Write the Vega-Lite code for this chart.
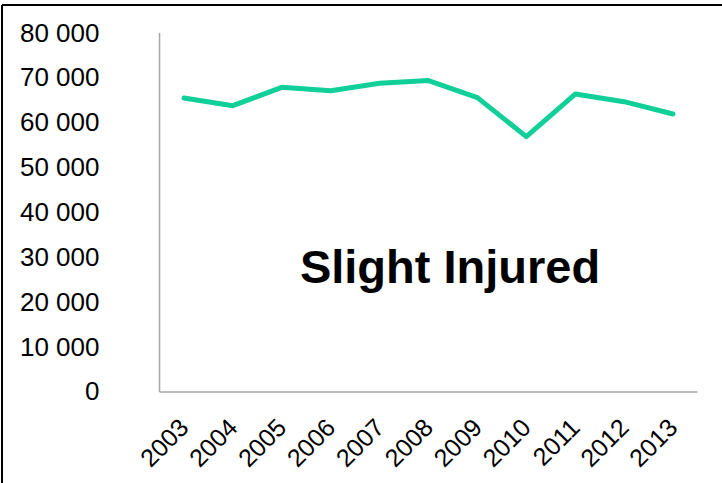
{
  "$schema": "https://vega.github.io/schema/vega-lite/v6.json",
  "width": 720,
  "height": 478,
  "autosize": {"type": "none"},
  "padding": {"left": 2, "top": 5, "right": 0, "bottom": 0},
  "background": "white",
  "config": {
    "view": {"stroke": null},
    "locale": {"number": {"decimal": ".", "thousands": " ", "grouping": [3], "currency": ["", ""]}},
    "axis": {"domain": false, "ticks": false, "grid": false, "tickSize": 0, "title": null, "labelFont": "Liberation Sans", "labelColor": "#000000"}
  },
  "layer": [
    {
      "data": {"values": [{}]},
      "mark": {"type": "rule", "color": "#000000", "strokeWidth": 2},
      "encoding": {
        "x": {"datum": 1999.2781, "type": "quantitative", "scale": {"domain": [1999.2781, 2014.002], "nice": false, "zero": false}},
        "y": {"datum": -20279, "type": "quantitative", "scale": {"domain": [-20279, 86240], "nice": false, "zero": false}},
        "y2": {"datum": 86240}
      }
    },
    {
      "data": {"values": [{}]},
      "mark": {"type": "rule", "color": "#000000", "strokeWidth": 2},
      "encoding": {
        "x": {"datum": 1999.2781, "type": "quantitative"},
        "x2": {"datum": 2014.002},
        "y": {"datum": 86240, "type": "quantitative"}
      }
    },
    {
      "data": {"values": [{}]},
      "mark": {"type": "rule", "color": "#a6a6a6", "strokeWidth": 1.5},
      "encoding": {
        "x": {"datum": 2002.5, "type": "quantitative"},
        "y": {"datum": 0, "type": "quantitative"},
        "y2": {"datum": 80000}
      }
    },
    {
      "data": {"values": [{}]},
      "mark": {"type": "rule", "color": "#a6a6a6", "strokeWidth": 1.5},
      "encoding": {
        "x": {"datum": 2002.5, "type": "quantitative"},
        "x2": {"datum": 2013.5},
        "y": {"datum": 0, "type": "quantitative"}
      }
    },
    {
      "data": {"values": [
        {"year": 2003, "injured": 65500},
        {"year": 2004, "injured": 63800},
        {"year": 2005, "injured": 67900},
        {"year": 2006, "injured": 67150},
        {"year": 2007, "injured": 68800},
        {"year": 2008, "injured": 69400},
        {"year": 2009, "injured": 65600},
        {"year": 2010, "injured": 56900},
        {"year": 2011, "injured": 66400},
        {"year": 2012, "injured": 64700},
        {"year": 2013, "injured": 61950}
      ]},
      "mark": {"type": "line", "color": "#10cf98", "strokeWidth": 5, "strokeCap": "round", "strokeJoin": "round"},
      "encoding": {
        "x": {"field": "year", "type": "quantitative", "axis": {"orient": "bottom", "values": [2003, 2004, 2005, 2006, 2007, 2008, 2009, 2010, 2011, 2012, 2013], "format": "d", "labelAngle": -45, "labelAlign": "right", "labelBaseline": "middle", "labelPadding": 31, "offset": -91, "labelFontSize": 25, "labelOverlap": false, "labelFlush": false}},
        "y": {"field": "injured", "type": "quantitative", "axis": {"orient": "left", "values": [0, 10000, 20000, 30000, 40000, 50000, 60000, 70000, 80000], "format": ",d", "labelPadding": 0, "offset": -97, "labelFontSize": 26, "labelOverlap": false, "labelFlush": false}}
      }
    },
    {
      "data": {"values": [{}]},
      "mark": {"type": "text", "text": "Slight Injured", "font": "Liberation Sans", "fontWeight": "bold", "fontSize": 47, "align": "center", "baseline": "alphabetic", "color": "#000000"},
      "encoding": {
        "x": {"datum": 2008.44, "type": "quantitative"},
        "y": {"datum": 24300, "type": "quantitative"}
      }
    }
  ]
}
